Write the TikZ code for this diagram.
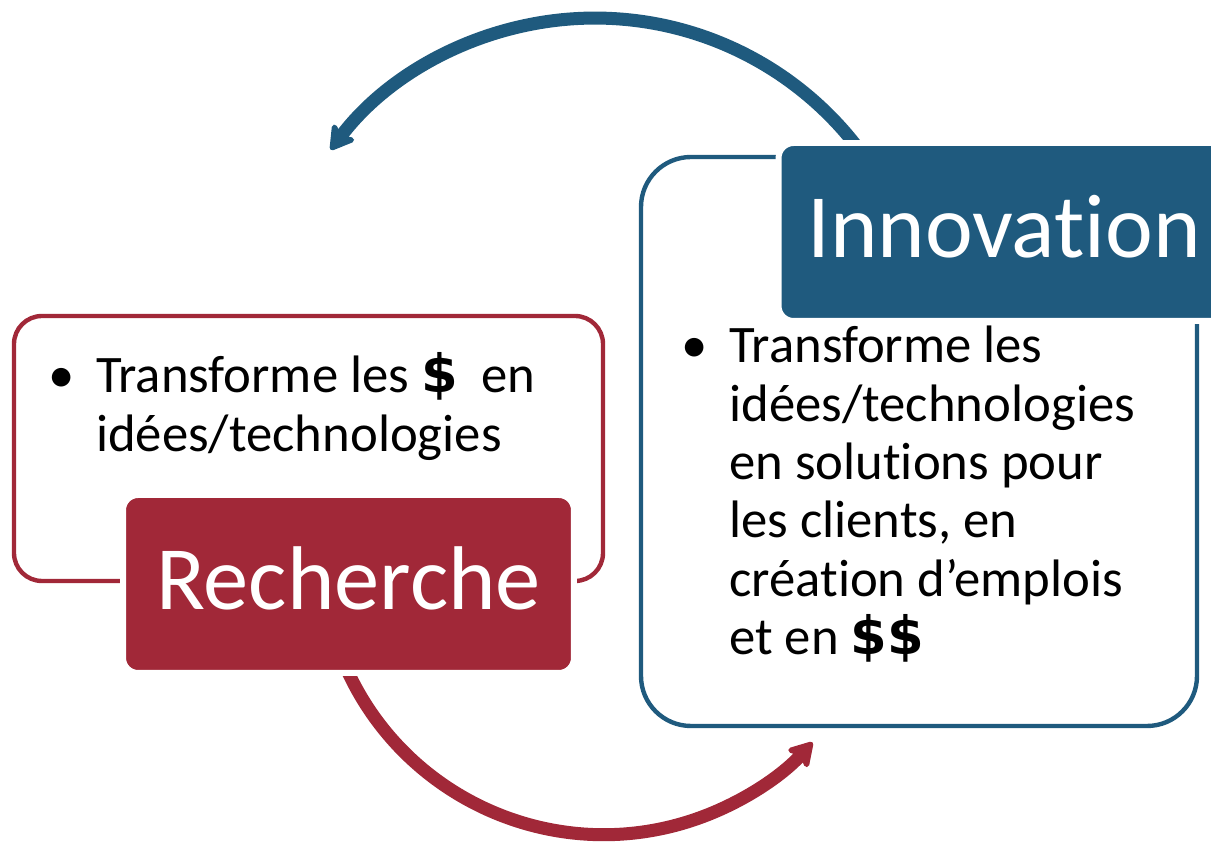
\documentclass[tikz,border=0pt]{standalone}
\usepackage{fontspec}
\setmainfont{Carlito}[Ligatures=NoCommon]
\newfontfamily\dolfont{DejaVu Sans}
\usepackage{tikz}
\usetikzlibrary{positioning,arrows.meta}
\definecolor{rechred}{RGB}{161,40,56}
\definecolor{innoblue}{RGB}{31,90,126}
\tikzset{
  outerbox/.style={line width=2.5pt, rounded corners=#1},
  titlebox/.style={fill=#1, draw=white, line width=3.4pt, rounded corners=0.3cm,
    minimum width=9.02cm, minimum height=3.56cm, inner sep=0pt, text=white,
    font=\fontsize{51.5}{60}\selectfont, text height=36pt, text depth=6.5pt},
  bodytext/.style={anchor=base west, inner sep=0pt, font=\fontsize{30}{33}\selectfont},
  nextline/.style={bodytext, yshift=-33.2pt},
  bulletdot/.style={anchor=base, inner sep=0pt, font=\fontsize{30}{33}\selectfont},
  cyclearrow/.style={line width=7.4pt, -{Stealth[length=16pt,width=19pt,inset=4pt,round]}}
}
\newcommand{\dol}{{\dolfont\bfseries\$}}

\begin{document}
\begin{tikzpicture}[x=0.02cm,y=0.02cm]
\useasboundingbox (0,0) rectangle (1211,848);
\clip (0,0) rectangle (1211,848);
% outline boxes
\draw[outerbox=0.56cm, draw=rechred] (14,267) rectangle (603,532);
\draw[outerbox=1cm, draw=innoblue] (641,122) rectangle (1197,691);
% cycle arrows
\coordinate (topc) at (595,499);
\coordinate (botc) at (603.7,295.6);
\draw[cyclearrow, innoblue] ([shift={(35:6.62cm)}]topc) arc[start angle=35, end angle=143, radius=6.62cm];
\draw[cyclearrow, rechred] ([shift={(200:5.646cm)}]botc) arc[start angle=200, end angle=317.7, radius=5.646cm];
% title boxes
\node[titlebox=rechred] (rech) at (348.5,264) {Recherche};
\node[titlebox=innoblue] (innov) at (1004,616) {Innovation};
% Recherche text
\node[bulletdot] (rbul) at (61.7,455.3) {\textbullet};
\node[bodytext] (rl1) at (95.7,455.3) {Transforme les \dol\ \ en};
\node[nextline] (rl2) at (rl1.base west) {idées/technologies};
% Innovation text
\node[bulletdot] (ibul) at (695,485.3) {\textbullet};
\node[bodytext] (il1) at (729,485.3) {Transforme les};
\node[nextline] (il2) at (il1.base west) {idées/technologies};
\node[nextline] (il3) at (il2.base west) {en solutions pour};
\node[nextline] (il4) at (il3.base west) {les clients, en};
\node[nextline] (il5) at (il4.base west) {création d’emplois};
\node[nextline] (il6) at (il5.base west) {et en \dol\dol};
\end{tikzpicture}
\end{document}
